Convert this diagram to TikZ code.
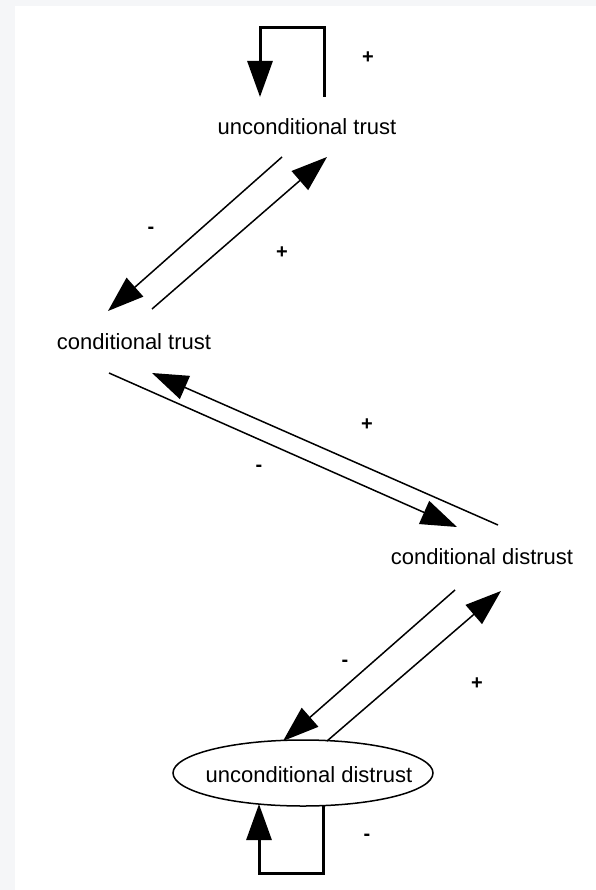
\documentclass[tikz,border=0pt]{standalone}
\usepackage{fontspec}
\setmainfont{Liberation Sans}
\usetikzlibrary{arrows.meta,shapes.geometric}
\definecolor{pagegray}{HTML}{F5F6F8}
\begin{document}
\begin{tikzpicture}[x=1pt,y=-1pt,
  every node/.style={inner sep=0pt,outer sep=0pt},
  statetext/.style={font=\fontsize{22}{26}\selectfont},
  sign/.style={font=\fontsize{20}{24}\selectfont\bfseries},
  link/.style={line width=1.5pt,-{Triangle[length=36pt,width=25pt]}},
  loopline/.style={line width=3pt,-{Triangle[length=36pt,width=25pt]}},
  stateoval/.style={ellipse,draw,line width=1.5pt,minimum width=260pt,minimum height=66pt},
]
% page background with a light frame on the left and top
\fill[pagegray] (0,0) rectangle (596,890);
\fill[white] (15,6) rectangle (596,890);
\useasboundingbox (0,0) rectangle (596,890);

% states
\node[statetext] (ut) at (307,127) {unconditional trust};
\node[statetext] (ct) at (134,342) {conditional trust};
\node[statetext] (cd) at (482,557) {conditional distrust};
\node[stateoval] (ud) at (303,773) {};
\node[statetext] (udt) at ([shift={(6,2)}]ud.center) {unconditional distrust};

% self-reinforcing loop above unconditional trust
\draw[loopline] ([shift={(17,-30)}]ut.center) |- ([shift={(-47,-99)}]ut.center)
  -- ([shift={(-47,-30)}]ut.center);
\node[sign] (s1) at (368,58) {+};

% unconditional trust <-> conditional trust
\draw[link] ([shift={(-25,30)}]ut.center) -- ([shift={(-26,-31)}]ct.center);
\draw[link] ([shift={(18,-33)}]ct.center) -- ([shift={(20,30)}]ut.center);
\node[sign] (s2) at (151,230) {-};
\node[sign] (s3) at (282,253) {+};

% conditional trust <-> conditional distrust
\draw[link] ([shift={(-25,31)}]ct.center) -- ([shift={(-25,-30)}]cd.center);
\draw[link] ([shift={(16,-32)}]cd.center) -- ([shift={(18,31)}]ct.center);
\node[sign] (s4) at (367,425) {+};
\node[sign] (s5) at (259,468) {-};

% conditional distrust <-> unconditional distrust
\draw[link] ([shift={(-27,33)}]cd.center) -- ([shift={(-20,-32)}]ud.center);
\draw[link] ([shift={(24,-32)}]ud.center) -- ([shift={(19,34)}]cd.center);
\node[sign] (s6) at (345,663) {-};
\node[sign] (s7) at (477,684) {+};

% self-damping loop below unconditional distrust
\draw[loopline] ([shift={(20,33)}]ud.center) |- ([shift={(-44,100)}]ud.center)
  -- ([shift={(-44,31)}]ud.center);
\node[sign] (s8) at (367,837) {-};
\end{tikzpicture}
\end{document}
